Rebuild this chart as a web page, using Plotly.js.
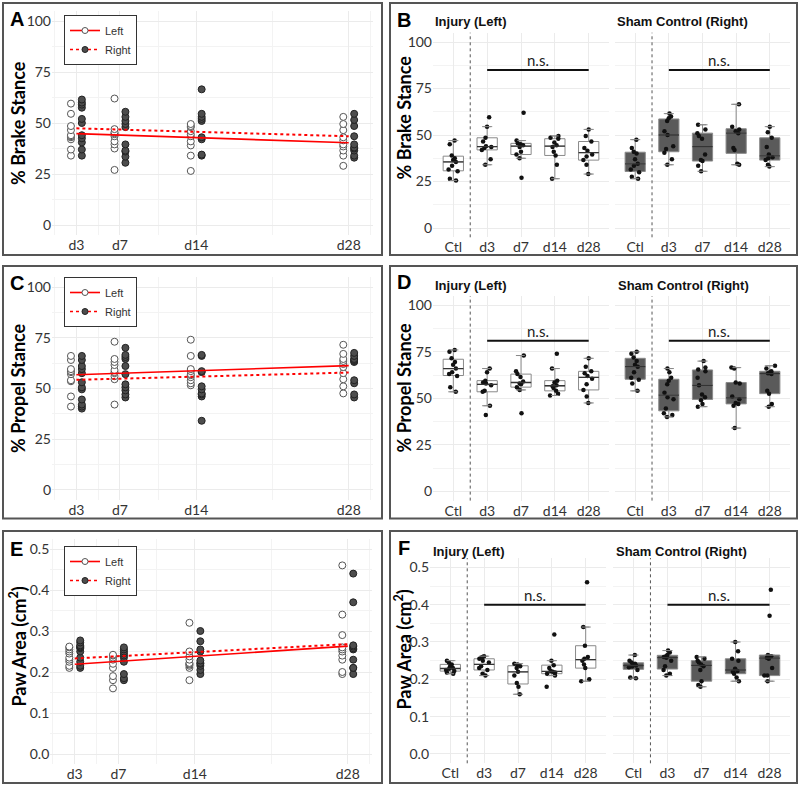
<!DOCTYPE html>
<html><head><meta charset="utf-8">
<script src="https://cdn.plot.ly/plotly-3.0.1.min.js"></script>
<style>html,body{margin:0;padding:0;background:#fff;}#chart{width:800px;height:787px;}</style>
</head><body><div id="chart"></div>
<script>
// ---------------- DATA ----------------
const groups = ['Ctl', 'd3', 'd7', 'd14', 'd28'];
const dayLabels = ['d3', 'd7', 'd14', 'd28'];
const days = [3, 7, 14, 28];
// % Brake stance, per group [Ctl, d3, d7, d14, d28]
const brakeInjury = [
  [25.5, 26.5, 30.5, 31.5, 33.5, 35.5, 36.5, 37.5, 39, 45, 47],
  [34, 37, 42, 43, 43.5, 44, 46.5, 48.5, 54.5, 59.5],
  [27, 37.5, 39.5, 41, 43.5, 44.5, 45, 45.5, 47, 62],
  [26.5, 34, 39, 41, 43.5, 44.5, 46, 48, 48.5, 49.5],
  [29, 34, 36.5, 38.5, 39.5, 41.5, 43, 46.5, 49.5, 53]
];
const brakeSham = [
  [26.5, 27.5, 30, 31.5, 33.5, 34.5, 37, 40, 41, 43, 47.5],
  [34, 37, 40.5, 42.5, 44, 50, 52, 57.5, 59, 60, 61.5],
  [30.5, 33.5, 36, 36.5, 39.5, 48, 49.5, 51, 53, 55.5],
  [34, 34.5, 42, 43, 51, 52, 53, 54.5, 66.5],
  [33, 34, 36.5, 37.5, 38, 39.5, 43.5, 48.5, 51.5, 54.5]
];
// % Propel stance
const propelInjury = [
  [53.5, 56, 62, 63, 64, 66, 68, 69.5, 71.5, 75, 76],
  [41, 46, 53.5, 54, 57, 58, 58.5, 59.5, 64, 66],
  [42, 54.5, 56, 57.5, 58, 59, 61.5, 63, 64.5, 73],
  [51.5, 52.5, 54, 55.5, 56.5, 57, 58.5, 59.5, 66, 74],
  [47.5, 51, 54.5, 57.5, 60.5, 62, 63.5, 64.5, 67, 71.5]
];
const propelSham = [
  [54, 58, 60, 61, 64, 67, 68, 70, 72, 74, 75],
  [40, 41, 42, 44.5, 49.5, 50.5, 53, 57.5, 59.5, 61, 64, 66],
  [45.5, 47, 49, 50.5, 52, 57, 61, 64.5, 65.5, 66.5, 70],
  [34, 46, 47, 47.5, 49.5, 51, 58, 58.5, 66, 66.5],
  [45.5, 47, 52.5, 54, 63, 63.5, 64, 64.5, 66, 67.5]
];
// Paw area (cm^2)
const pawInjury = [
  [0.215, 0.218, 0.222, 0.225, 0.228, 0.23, 0.235, 0.24, 0.245, 0.25],
  [0.21, 0.215, 0.225, 0.23, 0.235, 0.245, 0.25, 0.255, 0.26, 0.262],
  [0.16, 0.18, 0.19, 0.21, 0.22, 0.23, 0.235, 0.24, 0.242],
  [0.18, 0.21, 0.215, 0.218, 0.22, 0.222, 0.23, 0.238, 0.25, 0.32],
  [0.195, 0.2, 0.23, 0.24, 0.25, 0.255, 0.26, 0.29, 0.34, 0.46]
];
const pawSham = [
  [0.203, 0.205, 0.225, 0.232, 0.234, 0.237, 0.24, 0.242, 0.245, 0.25, 0.265],
  [0.21, 0.215, 0.225, 0.235, 0.25, 0.258, 0.26, 0.262, 0.265, 0.272, 0.277],
  [0.18, 0.185, 0.195, 0.225, 0.235, 0.24, 0.245, 0.25, 0.255, 0.26],
  [0.195, 0.205, 0.215, 0.22, 0.222, 0.228, 0.25, 0.255, 0.275, 0.3],
  [0.195, 0.21, 0.21, 0.23, 0.255, 0.258, 0.262, 0.265, 0.37, 0.44]
];
// fitted trend lines (value at d3 and at d28)
const fitDays = [3, 28];
const brakeFitLeft = [44.8, 40.3];
const brakeFitRight = [47.4, 43.5];
const propelFitLeft = [56.7, 61.2];
const propelFitRight = [54.2, 57.8];
const pawFitLeft = [0.219, 0.263];
const pawFitRight = [0.233, 0.268];
// height of the "n.s." bars in panels B, D, F
const nsLevels = [85, 81, 0.4];
const legendNames = ['Left', 'Right'];
const stripTitles = ['Injury (Left)', 'Sham Control (Right)'];
const yTitles = ['% Brake Stance', '% Propel Stance', 'Paw Area (cm<sup>2</sup>)'];
const letters = [['A', 'B'], ['C', 'D'], ['E', 'F']];

// ---------------- STATS HELPERS (same rules as the box trace) ----------------
function quantile(sorted, p) {
  let n = p * sorted.length - 0.5;
  if (n < 0) return sorted[0];
  if (n > sorted.length - 1) return sorted[sorted.length - 1];
  const f = n % 1;
  return f * sorted[Math.ceil(n)] + (1 - f) * sorted[Math.floor(n)];
}
function boxStats(vals) {
  const s = vals.slice().sort((a, b) => a - b);
  const q1 = quantile(s, 0.25), q3 = quantile(s, 0.75), med = quantile(s, 0.5);
  const iqr = q3 - q1;
  const lo = Math.min(...s.filter(v => v >= q1 - 1.5 * iqr));
  const hi = Math.max(...s.filter(v => v <= q3 + 1.5 * iqr));
  return {med, lo, hi};
}

// ---------------- LAYOUT HELPERS ----------------
const W = 800, H = 787;
const fx = p => p / W;
const fy = p => 1 - p / H;
const domX = (a, b) => [fx(a), fx(b)];
const domY = (top, bottom) => [fy(bottom), fy(top)];
const TICKFONT = {family: 'Lato, "Open Sans", sans-serif', size: 14, color: '#333'};
const GRID = '#ebebeb', MINOR = '#f3f3f3';
const DODGE = 0.5, BOXW = 0.6, CAPW = 0.11;
const rows = [
  {inj: brakeInjury, sham: brakeSham, fitL: brakeFitLeft, fitR: brakeFitRight,
   scatX: [52, 372.7], scatY: [10.8, 235.2], boxX1: [433, 609], boxX2: [615, 790], boxY: [32.7, 237.3],
   border: [3, 255], yr: [-5, 105], ticks: [0, 25, 50, 75, 100], minor: [12.5, 37.5, 62.5, 87.5], fmt: '',
   letterY: [19.5, 20], titleL: [18, 123], titleR: [403.5, 118], stripY: 22, stripX: [433, 615], legTop: 15},
  {inj: propelInjury, sham: propelSham, fitL: propelFitLeft, fitR: propelFitRight,
   scatX: [52, 372.7], scatY: [276.9, 499.8], boxX1: [433, 609], boxX2: [615, 790], boxY: [296, 500.6],
   border: [266, 518.5], yr: [-5, 105], ticks: [0, 25, 50, 75, 100], minor: [12.5, 37.5, 62.5, 87.5], fmt: '',
   letterY: [283, 282], titleL: [18, 388], titleR: [403.5, 388], stripY: 286, stripX: [433, 616], legTop: 277},
  {inj: pawInjury, sham: pawSham, fitL: pawFitLeft, fitR: pawFitRight,
   scatX: [50.3, 371.8], scatY: [538.75, 764.25], boxX1: [430, 606], boxX2: [613, 790], boxY: [558, 763.3],
   border: [531, 783], yr: [-0.025, 0.525], ticks: [0, 0.1, 0.2, 0.3, 0.4, 0.5], minor: [0.05, 0.15, 0.25, 0.35, 0.45], fmt: '.1f',
   letterY: [549, 548], titleL: [18.5, 647], titleR: [403.5, 650], stripY: 551, stripX: [431, 614], legTop: 546}
];

const traces = [];
const layout = {width: W, height: H, margin: {l: 0, r: 0, t: 0, b: 0},
  paper_bgcolor: 'white', plot_bgcolor: 'white', showlegend: true, shapes: [], annotations: []};

rows.forEach((r, k) => {
  const ax = 3 * k + 2, bx1 = 3 * k + 3, bx2 = 3 * k + 4;
  const legId = k === 0 ? 'legend' : 'legend' + (k + 1);
  const xa = 'x' + ax, ya = 'y' + ax;

  // ---- scatter panels (A, C, E)
  const leftX = [], leftY = [], rightX = [], rightY = [];
  days.forEach((d, i) => {
    r.inj[i + 1].forEach(v => { leftX.push(d - DODGE); leftY.push(v); });
    r.sham[i + 1].forEach(v => { rightX.push(d + DODGE); rightY.push(v); });
  });
  const openMk = {symbol: 'circle', size: 7, color: 'white', line: {color: '#555', width: 1}};
  const fillMk = {symbol: 'circle', size: 7, color: '#4d4d4d', line: {color: '#222', width: 1}};
  traces.push({type: 'scatter', mode: 'markers', x: leftX, y: leftY, xaxis: xa, yaxis: ya, marker: openMk, showlegend: false});
  traces.push({type: 'scatter', mode: 'markers', x: rightX, y: rightY, xaxis: xa, yaxis: ya, marker: fillMk, showlegend: false});
  traces.push({type: 'scatter', mode: 'lines', x: fitDays, y: r.fitL, xaxis: xa, yaxis: ya, line: {color: '#ff0000', width: 1.6}, showlegend: false});
  traces.push({type: 'scatter', mode: 'lines', x: fitDays, y: r.fitR, xaxis: xa, yaxis: ya, line: {color: '#ff0000', width: 2, dash: 'dot'}, showlegend: false});
  traces.push({type: 'scatter', mode: 'lines+markers', x: [null], y: [null], xaxis: xa, yaxis: ya, name: legendNames[0], legend: legId,
    line: {color: '#ff0000', width: 1.6}, marker: {symbol: 'circle', size: 6, color: 'white', line: {color: '#555', width: 1}}});
  traces.push({type: 'scatter', mode: 'lines+markers', x: [null], y: [null], xaxis: xa, yaxis: ya, name: legendNames[1], legend: legId,
    line: {color: '#ff0000', width: 1.6, dash: 'dot'}, marker: {symbol: 'circle', size: 6, color: '#4d4d4d', line: {color: '#222', width: 1}}});
  layout['xaxis' + ax] = {domain: domX(r.scatX[0], r.scatX[1]), anchor: ya, range: [0.76, 30.2],
    tickmode: 'array', tickvals: days, ticktext: dayLabels, ticks: '', showline: false, zeroline: false,
    showgrid: true, gridcolor: GRID, gridwidth: 1,
    minor: {tickmode: 'array', tickvals: [1, 5, 10.5, 21, 30], showgrid: true, gridcolor: MINOR, gridwidth: 1, ticks: ''},
    tickfont: TICKFONT, fixedrange: true};
  layout['yaxis' + ax] = {domain: domY(r.scatY[0], r.scatY[1]), anchor: xa, range: r.yr,
    tickmode: 'array', tickvals: r.ticks, tickformat: r.fmt, ticks: '', showline: false, zeroline: false,
    showgrid: true, gridcolor: GRID, gridwidth: 1,
    minor: {tickmode: 'array', tickvals: r.minor, showgrid: true, gridcolor: MINOR, gridwidth: 1, ticks: ''},
    tickfont: TICKFONT, fixedrange: true};
  layout[legId] = {x: fx(64), y: fy(r.legTop), xanchor: 'left', yanchor: 'top',
    bordercolor: '#333', borderwidth: 1, bgcolor: 'white',
    font: {family: '"Liberation Sans", Arial, sans-serif', size: 11, color: '#333'},
    itemwidth: 30, tracegroupgap: 0};

  // ---- box panels (B, D, F)
  [[bx1, r.inj, 'white', r.boxX1, 0], [bx2, r.sham, '#5a5a5a', r.boxX2, 1]].forEach(([n, data, fill, xd, side]) => {
    const xa2 = 'x' + n, ya2 = 'y' + n;
    const xs = [], ys = [];
    groups.forEach((g, i) => data[i].forEach(v => { xs.push(g); ys.push(v); }));
    traces.push({type: 'box', x: xs, y: ys, xaxis: xa2, yaxis: ya2, width: BOXW,
      boxpoints: 'all', jitter: 0.55, pointpos: 0, fillcolor: fill,
      line: {color: '#8a8a8a', width: 1}, marker: {color: '#111', size: 4.5}, showlegend: false});
    // darker median line and whisker caps, from the same data
    groups.forEach((g, i) => {
      const st = boxStats(data[i]);
      layout.shapes.push({type: 'line', xref: xa2, yref: ya2, x0: i - BOXW / 2, x1: i + BOXW / 2, y0: st.med, y1: st.med,
        line: {color: '#333', width: 1.3}});
      [st.lo, st.hi].forEach(v => layout.shapes.push({type: 'line', xref: xa2, yref: ya2,
        x0: i - CAPW, x1: i + CAPW, y0: v, y1: v, line: {color: '#8a8a8a', width: 1}}));
    });
    layout['xaxis' + n] = {domain: domX(xd[0], xd[1]), anchor: ya2, type: 'category',
      categoryorder: 'array', categoryarray: groups, range: [-0.6, groups.length - 0.4],
      ticks: '', showline: false, zeroline: false, showgrid: true, gridcolor: GRID, gridwidth: 1, tickfont: TICKFONT, fixedrange: true};
    layout['yaxis' + n] = {domain: domY(r.boxY[0], r.boxY[1]), anchor: xa2, range: r.yr,
      tickmode: 'array', tickvals: r.ticks, tickformat: r.fmt, ticks: '', showline: false, zeroline: false,
      showgrid: true, gridcolor: GRID, gridwidth: 1,
      minor: {tickmode: 'array', tickvals: r.minor, showgrid: true, gridcolor: MINOR, gridwidth: 1, ticks: ''},
      showticklabels: side === 0, tickfont: TICKFONT, fixedrange: true};
    layout.shapes.push({type: 'line', xref: xa2, yref: ya2 + ' domain',
      x0: groups.indexOf('Ctl') + 0.5, x1: groups.indexOf('Ctl') + 0.5, y0: 0, y1: 1,
      line: {color: '#555', width: 1, dash: 'dot'}});
    layout.shapes.push({type: 'line', xref: xa2, yref: ya2,
      x0: groups.indexOf('d3'), x1: groups.indexOf('d28'), y0: nsLevels[k], y1: nsLevels[k],
      line: {color: '#111', width: 2}});
    layout.annotations.push({xref: xa2, yref: ya2, x: (groups.indexOf('d3') + groups.indexOf('d28')) / 2,
      y: nsLevels[k], yanchor: 'bottom', text: 'n.s.', showarrow: false, yshift: -1,
      font: {family: 'Lato, "Open Sans", sans-serif', size: 15, color: '#222'}});
    layout.annotations.push({xref: 'paper', yref: 'paper', x: fx(r.stripX[side]), y: fy(r.stripY),
      xanchor: 'left', yanchor: 'middle', text: '<b>' + stripTitles[side] + '</b>', showarrow: false,
      font: {family: '"Liberation Sans", Arial, sans-serif', size: 13, color: '#111'}});
  });

  // panel borders, letters, y titles
  [[3, 382], [390, 797]].forEach(([a, b]) => {
    layout.shapes.push({type: 'rect', xref: 'paper', yref: 'paper',
      x0: fx(a), x1: fx(b), y0: fy(r.border[1]), y1: fy(r.border[0]),
      line: {color: '#555', width: 2}, fillcolor: 'rgba(0,0,0,0)'});
  });
  [[16.5, 0], [404, 1]].forEach(([x, s]) => {
    layout.annotations.push({xref: 'paper', yref: 'paper', x: fx(x), y: fy(r.letterY[s]),
      xanchor: 'center', yanchor: 'middle', text: '<b>' + letters[k][s] + '</b>', showarrow: false,
      font: {family: '"Liberation Sans", Arial, sans-serif', size: 20, color: '#000'}});
  });
  [r.titleL, r.titleR].forEach(p => {
    layout.annotations.push({xref: 'paper', yref: 'paper', x: fx(p[0]), y: fy(p[1]),
      xanchor: 'center', yanchor: 'middle', textangle: -90, text: '<b>' + yTitles[k] + '</b>', showarrow: false,
      font: {family: 'Lato, "Open Sans", sans-serif', size: 18, color: '#000'}});
  });
});

Plotly.newPlot('chart', traces, layout, {displayModeBar: false, staticPlot: true});
</script>
</body></html>
